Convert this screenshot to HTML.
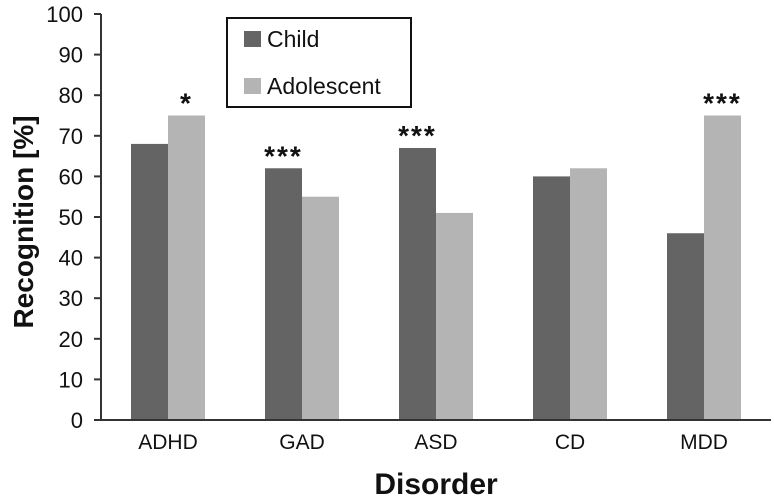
<!DOCTYPE html>
<html><head><meta charset="utf-8"><style>
body{margin:0;background:#fff}
svg{display:block;font-family:"Liberation Sans",sans-serif}
</style></head><body>
<svg id="c" width="774" height="496"></svg>
<script>
const categories=["ADHD","GAD","ASD","CD","MDD"];
const childVals=[68,62,67,60,46];
const adolVals=[75,55,51,62,75];
const starsLabels=["*","***","***","","***"];
const starsOn=["adol","child","child","","adol"];
const yTicks=[0,10,20,30,40,50,60,70,80,90,100];
const NS="http://www.w3.org/2000/svg";
const svg=document.getElementById('c');
const x0=101,x1=771,yB=420,yT=14;
const y=v=>yB-(v/100)*(yB-yT);
const band=(x1-x0)/categories.length;
const cx=i=>x0+band*(i+0.5);
const bw=37;
function mk(t,a,txt){const e=document.createElementNS(NS,t);for(const k in a)e.setAttribute(k,a[k]);if(txt!==undefined)e.textContent=txt;svg.appendChild(e);return e;}
let e;
e=mk('line',{x1:x0,y1:yT,x2:x0,y2:yB,stroke:'#333','stroke-width':2});


yTicks.forEach(v=>{
 e=mk('line',{x1:x0-7,y1:y(v),x2:x0,y2:y(v),stroke:'#333','stroke-width':2});
 
 
 e=mk('text',{x:x0-18,y:y(v)+8,'text-anchor':'end','font-size':22,fill:'#111'},v);
 
 
});
categories.forEach((c,i)=>{
 e=mk('rect',{x:cx(i)-bw,y:y(childVals[i]),width:bw,height:yB-y(childVals[i]),fill:'#646464'});
 
 
 e=mk('rect',{x:cx(i),y:y(adolVals[i]),width:bw,height:yB-y(adolVals[i]),fill:'#b4b4b4'});
 
 
 e=mk('text',{x:cx(i),y:yB+29,'text-anchor':'middle','font-size':21,fill:'#111'},c);
 
 
 if(starsOn[i]){
  const v=starsOn[i]==='child'?childVals[i]:adolVals[i];
  const sx=starsOn[i]==='child'?cx(i)-bw/2:cx(i)+bw/2;
  e=mk('text',{x:sx,y:y(v)-3,'text-anchor':'middle','font-size':28,'font-weight':'bold','letter-spacing':2,fill:'#111'},starsLabels[i]);
  
  
 }
});
e=mk('line',{x1:x0-1,y1:yB,x2:x1,y2:yB,stroke:'#333','stroke-width':2});


e=mk('text',{x:436,y:494,'text-anchor':'middle','font-size':30,'font-weight':'bold',fill:'#111'},'Disorder');


e=mk('text',{x:0,y:0,'text-anchor':'middle','font-size':28,'font-weight':'bold',fill:'#111',transform:'translate(33,222) rotate(-90)'},'Recognition [%]');


e=mk('rect',{x:227,y:18,width:184,height:89,fill:'#fff',stroke:'#111','stroke-width':2});


e=mk('rect',{x:244,y:31,width:17,height:16,fill:'#646464'});


e=mk('text',{x:267,y:47,'font-size':23,fill:'#111'},'Child');


e=mk('rect',{x:244,y:78,width:17,height:16,fill:'#b4b4b4'});


e=mk('text',{x:267,y:94,'font-size':23,fill:'#111'},'Adolescent');


</script>
</body></html>
